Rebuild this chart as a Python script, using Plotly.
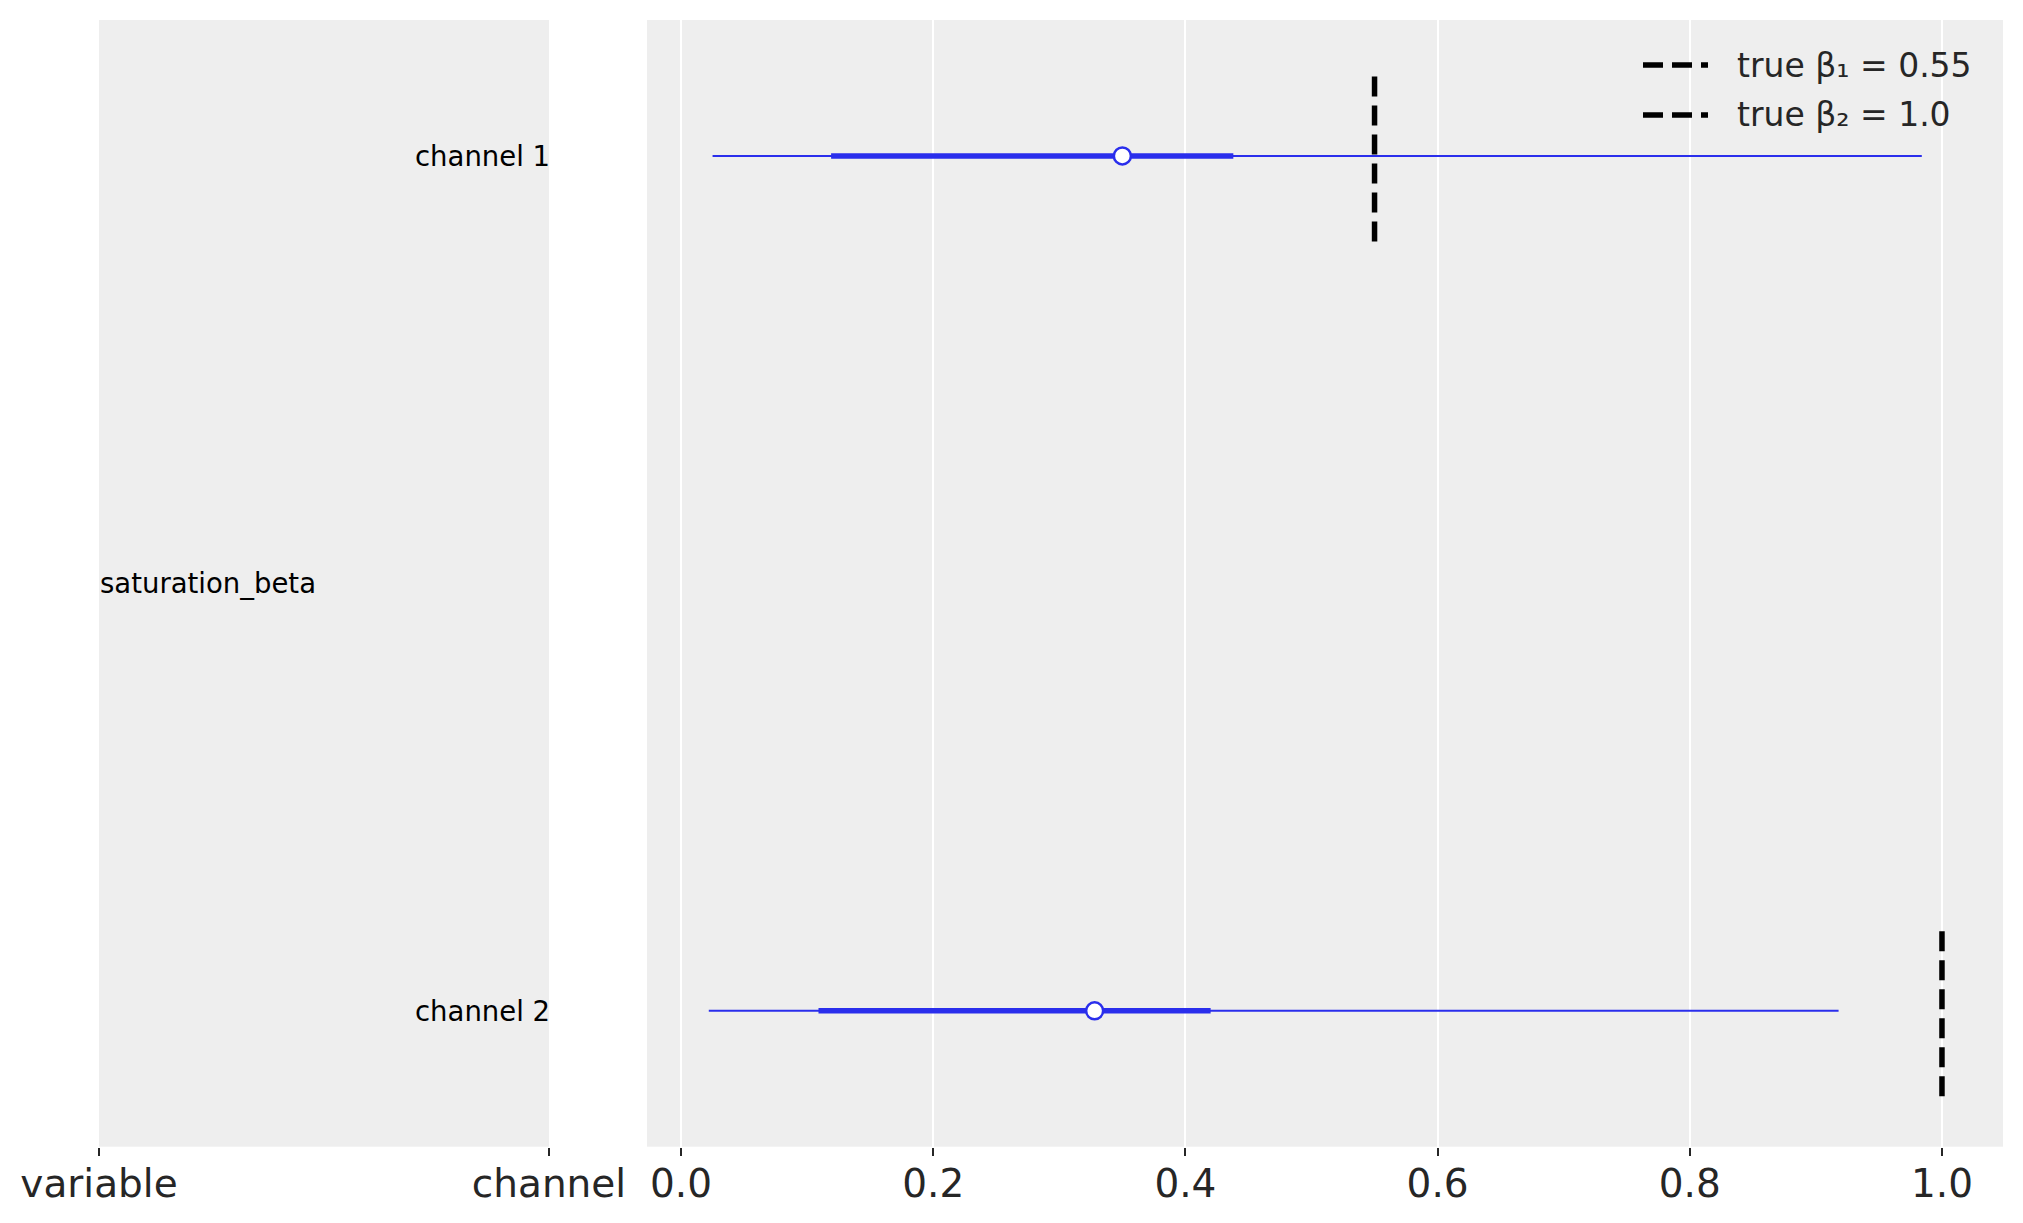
import plotly.graph_objects as go

# forest plot data
variable = "saturation_beta"
channels = ["channel 1", "channel 2"]
ypos = [1, 0]
hdi94_low = [0.025, 0.022]
hdi94_high = [0.984, 0.918]
iqr_low = [0.119, 0.109]
iqr_high = [0.438, 0.420]
medians = [0.350, 0.328]

true_names = ["true β₁ = 0.55", "true β₂ = 1.0"]
true_values = [0.55, 1.0]

# page has an 8px body margin, so the figure is 16px smaller than the window
W, H = 2007, 1207
OFF = 8
blue = "#2a2eec"
bg = "#eeeeee"
txt = "#262626"
font = "DejaVu Sans"


def px(x):
    return (x - OFF) / W


def py(y):
    return 1 - (y - OFF) / H


fig = go.Figure()

for i in range(len(channels)):
    # 94% hdi, thin
    fig.add_trace(go.Scatter(
        x=[hdi94_low[i], hdi94_high[i]], y=[ypos[i], ypos[i]],
        mode="lines", line=dict(color=blue, width=2),
        showlegend=False, hoverinfo="skip", xaxis="x2", yaxis="y2",
    ))
    # inner interval, thick
    fig.add_trace(go.Scatter(
        x=[iqr_low[i], iqr_high[i]], y=[ypos[i], ypos[i]],
        mode="lines", line=dict(color=blue, width=5.5),
        showlegend=False, hoverinfo="skip", xaxis="x2", yaxis="y2",
    ))
    fig.add_trace(go.Scatter(
        x=[medians[i]], y=[ypos[i]], mode="markers",
        marker=dict(color="white", size=17, line=dict(color=blue, width=2.5)),
        showlegend=False, xaxis="x2", yaxis="y2",
    ))

# true values as dashed vertical lines
dash = "20px,9px"
for i in range(len(true_values)):
    fig.add_trace(go.Scatter(
        x=[true_values[i], true_values[i]], y=[ypos[i] - 0.1, ypos[i] + 0.1],
        mode="lines", name=true_names[i], showlegend=False,
        line=dict(color="black", width=5.5, dash=dash),
        xaxis="x2", yaxis="y2",
    ))

# labels in the left panel
annots = []
for i in range(len(channels)):
    annots.append(dict(
        x=1, y=ypos[i], xref="x", yref="y", text=channels[i],
        showarrow=False, xanchor="right", yanchor="middle", xshift=3,
        font=dict(family=font, size=27.5, color="black"),
    ))
annots.append(dict(
    x=0, y=0.5, xref="x", yref="y", text=variable,
    showarrow=False, xanchor="left", yanchor="middle", xshift=-1,
    font=dict(family=font, size=27.5, color="black"),
))

# legend (matplotlib style, longer dashed keys than plotly's own legend)
shapes = []
leg_rows = [65, 115]
for i in range(len(true_names)):
    shapes.append(dict(
        type="line", xref="paper", yref="paper",
        x0=px(1643), x1=px(1708), y0=py(leg_rows[i]), y1=py(leg_rows[i]),
        line=dict(color="black", width=5.5, dash=dash),
    ))
    annots.append(dict(
        x=px(1735), y=py(leg_rows[i]), xref="paper", yref="paper",
        text=true_names[i], showarrow=False, xanchor="left", yanchor="middle",
        font=dict(family=font, size=33, color=txt),
    ))

yrange = [-0.159, 1.159]
ydom = [py(1146.7), py(20)]

fig.update_layout(
    width=W, height=H, autosize=False,
    margin=dict(l=0, r=0, t=0, b=0, pad=0),
    paper_bgcolor="white", plot_bgcolor=bg,
    font=dict(family=font, color=txt),
    annotations=annots, shapes=shapes, showlegend=False,
    xaxis=dict(
        domain=[px(99), px(549)], range=[0, 1], automargin=False,
        tickvals=[0, 1], ticktext=["variable", "channel"],
        showgrid=False, zeroline=False, showline=False,
        ticks="outside", ticklen=8, tickwidth=2, tickcolor=txt,
        tickfont=dict(size=39, color=txt), fixedrange=True,
        ticklabelstandoff=-6,
    ),
    yaxis=dict(
        domain=ydom, range=yrange, showticklabels=False, automargin=False,
        showgrid=False, zeroline=False, showline=False,
    ),
    xaxis2=dict(
        domain=[px(647), px(2003)], range=[-0.027, 1.0484], anchor="y2",
        automargin=False,
        tickvals=[0, 0.2, 0.4, 0.6, 0.8, 1.0], tickformat=".1f",
        showgrid=True, gridcolor="white", gridwidth=2,
        zeroline=False, showline=False,
        ticks="outside", ticklen=8, tickwidth=2, tickcolor=txt,
        tickfont=dict(size=39, color=txt), ticklabelstandoff=-6,
    ),
    yaxis2=dict(
        domain=ydom, range=yrange, anchor="x2", showticklabels=False,
        automargin=False, showgrid=False, zeroline=False, showline=False,
    ),
)

fig.write_html("out.html")
